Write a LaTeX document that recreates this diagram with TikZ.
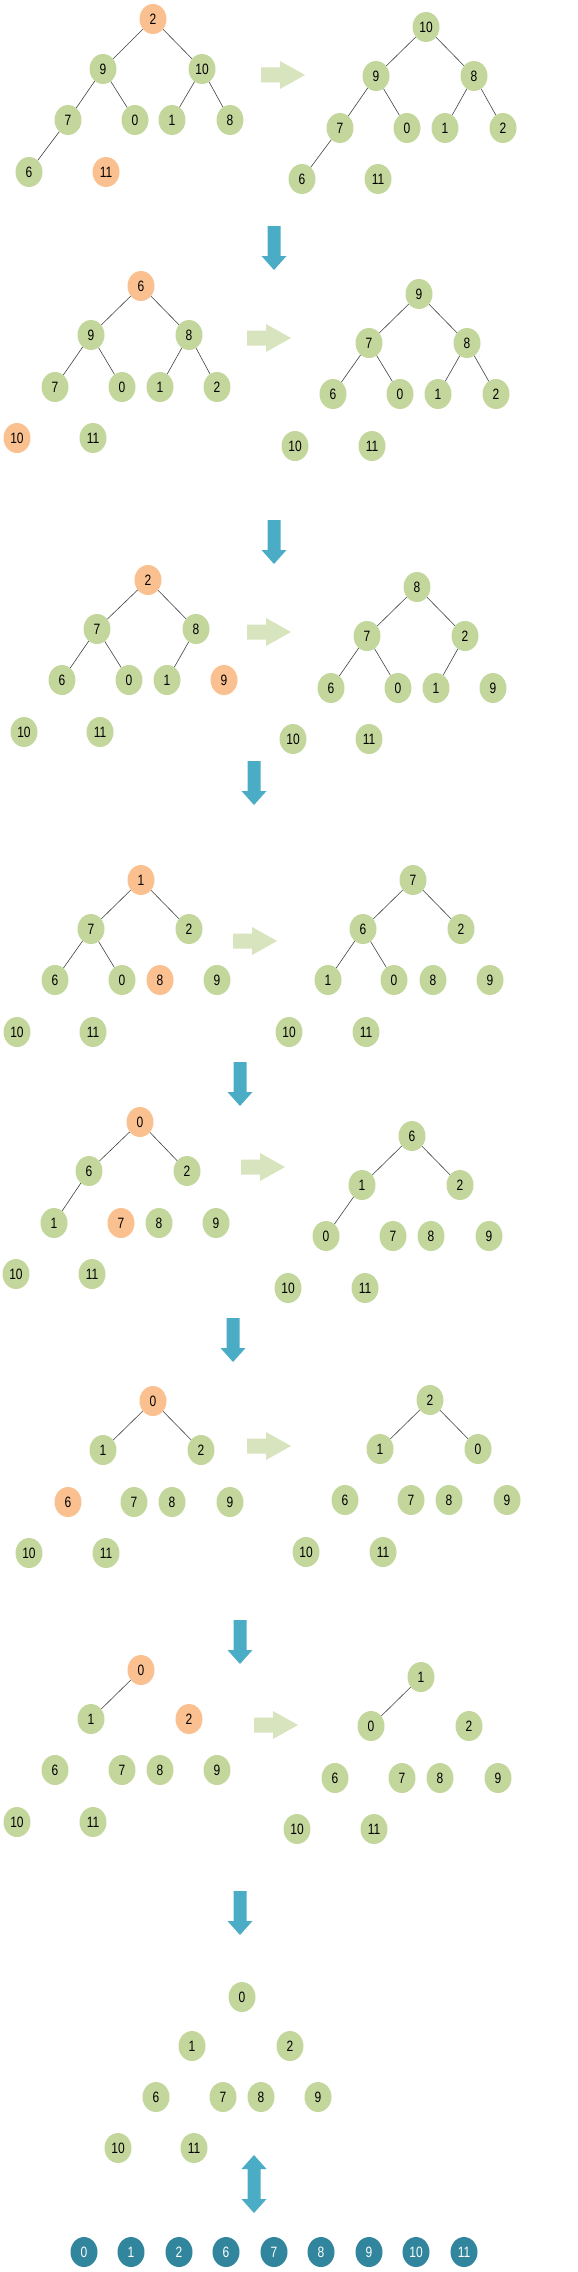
\documentclass[tikz,border=0pt]{standalone}
\usepackage{fontspec}
\newfontfamily\numfont[FakeStretch=0.8]{Liberation Sans}
\usetikzlibrary{shapes.geometric}
\definecolor{gfill}{HTML}{C3D69B}
\definecolor{ofill}{HTML}{FAC090}
\definecolor{bfill}{HTML}{31859C}
\definecolor{arrg}{HTML}{D7E4BD}
\definecolor{arrb}{HTML}{4BACC6}
\definecolor{edgec}{HTML}{404040}
\tikzset{
  nd/.style={ellipse, minimum width=27pt, minimum height=30pt, inner sep=0pt,
    font=\numfont\fontsize{15}{15}\selectfont},
  g/.style={nd, fill=gfill, text=black},
  o/.style={nd, fill=ofill, text=black},
  b/.style={nd, fill=bfill, text=white},
  e/.style={draw=edgec, line width=0.6pt},
  rarr/.pic={\fill[arrg] (0,-7.5) -- (19,-7.5) -- (19,-14) -- (44,0) -- (19,14) -- (19,7.5) -- (0,7.5) -- cycle;},
  darr/.pic={\fill[arrb] (-6.5,0) -- (6.5,0) -- (6.5,30) -- (12.5,30) -- (0,44) -- (-12.5,30) -- (-6.5,30) -- cycle;},
  dbarr/.pic={\fill[arrb] (0,0) -- (12.5,14) -- (6.5,14) -- (6.5,44) -- (12.5,44) -- (0,58) -- (-12.5,44) -- (-6.5,44) -- (-6.5,14) -- (-12.5,14) -- cycle;}
}
\begin{document}
\begin{tikzpicture}[x=1pt,y=-1pt]
\path[use as bounding box] (0,0) rectangle (578,2272);

% ---------- Panel 1 ----------
\node[o] (a2) at (153,19) {2};
\node[g] (a9) at (103,69) {9};
\node[g] (a10) at (202,69) {10};
\node[g] (a7) at (68,120) {7};
\node[g] (a0) at (135,120) {0};
\node[g] (a1) at (172,120) {1};
\node[g] (a8) at (230,120) {8};
\node[g] (a6) at (29,172) {6};
\node[o] (a11) at (106,172) {11};
\draw[e] (a2)--(a9) (a2)--(a10) (a9)--(a7) (a9)--(a0) (a10)--(a1) (a10)--(a8) (a7)--(a6);
\pic at (261,75) {rarr};
\node[g] (A10) at (426,27) {10};
\node[g] (A9) at (376,76) {9};
\node[g] (A8) at (474,76) {8};
\node[g] (A7) at (340,128) {7};
\node[g] (A0) at (407,128) {0};
\node[g] (A1) at (445,128) {1};
\node[g] (A2) at (503,128) {2};
\node[g] (A6) at (302,179) {6};
\node[g] (A11) at (378,179) {11};
\draw[e] (A10)--(A9) (A10)--(A8) (A9)--(A7) (A9)--(A0) (A8)--(A1) (A8)--(A2) (A7)--(A6);

% ---------- Panel 2 ----------
\pic at (274,226) {darr};
\node[o] (b6) at (141,286) {6};
\node[g] (b9) at (91,335) {9};
\node[g] (b8) at (189,335) {8};
\node[g] (b7) at (55,387) {7};
\node[g] (b0) at (122,387) {0};
\node[g] (b1) at (160,387) {1};
\node[g] (b2) at (217,387) {2};
\node[o] (b10) at (17,438) {10};
\node[g] (b11) at (93,438) {11};
\draw[e] (b6)--(b9) (b6)--(b8) (b9)--(b7) (b9)--(b0) (b8)--(b1) (b8)--(b2);
\pic at (247,338) {rarr};
\node[g] (B9) at (419,294) {9};
\node[g] (B7) at (369,343) {7};
\node[g] (B8) at (467,343) {8};
\node[g] (B6) at (333,394) {6};
\node[g] (B0) at (400,394) {0};
\node[g] (B1) at (438,394) {1};
\node[g] (B2) at (496,394) {2};
\node[g] (B10) at (295,446) {10};
\node[g] (B11) at (372,446) {11};
\draw[e] (B9)--(B7) (B9)--(B8) (B7)--(B6) (B7)--(B0) (B8)--(B1) (B8)--(B2);

% ---------- Panel 3 ----------
\pic at (274,520) {darr};
\node[o] (c2) at (148,580) {2};
\node[g] (c7) at (97,629) {7};
\node[g] (c8) at (196,629) {8};
\node[g] (c6) at (62,680) {6};
\node[g] (c0) at (129,680) {0};
\node[g] (c1) at (167,680) {1};
\node[o] (c9) at (224,680) {9};
\node[g] (c10) at (24,732) {10};
\node[g] (c11) at (100,732) {11};
\draw[e] (c2)--(c7) (c2)--(c8) (c7)--(c6) (c7)--(c0) (c8)--(c1);
\pic at (247,632) {rarr};
\node[g] (C8) at (417,587) {8};
\node[g] (C7) at (367,636) {7};
\node[g] (C2) at (465,636) {2};
\node[g] (C6) at (331,688) {6};
\node[g] (C0) at (398,688) {0};
\node[g] (C1) at (436,688) {1};
\node[g] (C9) at (493,688) {9};
\node[g] (C10) at (293,739) {10};
\node[g] (C11) at (369,739) {11};
\draw[e] (C8)--(C7) (C8)--(C2) (C7)--(C6) (C7)--(C0) (C2)--(C1);

% ---------- Panel 4 ----------
\pic at (254,761) {darr};
\node[o] (d1) at (141,880) {1};
\node[g] (d7) at (91,929) {7};
\node[g] (d2) at (189,929) {2};
\node[g] (d6) at (55,980) {6};
\node[g] (d0) at (122,980) {0};
\node[o] (d8) at (160,980) {8};
\node[g] (d9) at (217,980) {9};
\node[g] (d10) at (17,1032) {10};
\node[g] (d11) at (93,1032) {11};
\draw[e] (d1)--(d7) (d1)--(d2) (d7)--(d6) (d7)--(d0);
\pic at (233,941) {rarr};
\node[g] (D7) at (413,880) {7};
\node[g] (D6) at (363,929) {6};
\node[g] (D2) at (461,929) {2};
\node[g] (D1) at (328,980) {1};
\node[g] (D0) at (394,980) {0};
\node[g] (D8) at (433,980) {8};
\node[g] (D9) at (490,980) {9};
\node[g] (D10) at (289,1032) {10};
\node[g] (D11) at (366,1032) {11};
\draw[e] (D7)--(D6) (D7)--(D2) (D6)--(D1) (D6)--(D0);

% ---------- Panel 5 ----------
\pic at (240,1062) {darr};
\node[o] (e0) at (140,1122) {0};
\node[g] (e6) at (89,1171) {6};
\node[g] (e2) at (187,1171) {2};
\node[g] (e1) at (54,1223) {1};
\node[o] (e7) at (121,1223) {7};
\node[g] (e8) at (159,1223) {8};
\node[g] (e9) at (216,1223) {9};
\node[g] (e10) at (16,1274) {10};
\node[g] (e11) at (92,1274) {11};
\draw[e] (e0)--(e6) (e0)--(e2) (e6)--(e1);
\pic at (241,1167) {rarr};
\node[g] (E6) at (412,1136) {6};
\node[g] (E1) at (362,1185) {1};
\node[g] (E2) at (460,1185) {2};
\node[g] (E0) at (326,1236) {0};
\node[g] (E7) at (393,1236) {7};
\node[g] (E8) at (431,1236) {8};
\node[g] (E9) at (489,1236) {9};
\node[g] (E10) at (288,1288) {10};
\node[g] (E11) at (365,1288) {11};
\draw[e] (E6)--(E1) (E6)--(E2) (E1)--(E0);

% ---------- Panel 6 ----------
\pic at (233,1318) {darr};
\node[o] (f0) at (153,1401) {0};
\node[g] (f1) at (103,1450) {1};
\node[g] (f2) at (201,1450) {2};
\node[o] (f6) at (68,1502) {6};
\node[g] (f7) at (134,1502) {7};
\node[g] (f8) at (172,1502) {8};
\node[g] (f9) at (230,1502) {9};
\node[g] (f10) at (29,1553) {10};
\node[g] (f11) at (106,1553) {11};
\draw[e] (f0)--(f1) (f0)--(f2);
\pic at (247,1446) {rarr};
\node[g] (F2) at (430,1400) {2};
\node[g] (F1) at (380,1449) {1};
\node[g] (F0) at (478,1449) {0};
\node[g] (F6) at (345,1500) {6};
\node[g] (F7) at (411,1500) {7};
\node[g] (F8) at (449,1500) {8};
\node[g] (F9) at (507,1500) {9};
\node[g] (F10) at (306,1552) {10};
\node[g] (F11) at (383,1552) {11};
\draw[e] (F2)--(F1) (F2)--(F0);

% ---------- Panel 7 ----------
\pic at (240,1620) {darr};
\node[o] (h0) at (141,1670) {0};
\node[g] (h1) at (91,1719) {1};
\node[o] (h2) at (189,1719) {2};
\node[g] (h6) at (55,1770) {6};
\node[g] (h7) at (122,1770) {7};
\node[g] (h8) at (160,1770) {8};
\node[g] (h9) at (217,1770) {9};
\node[g] (h10) at (17,1822) {10};
\node[g] (h11) at (93,1822) {11};
\draw[e] (h0)--(h1);
\pic at (254,1725) {rarr};
\node[g] (H1) at (421,1677) {1};
\node[g] (H0) at (371,1726) {0};
\node[g] (H2) at (469,1726) {2};
\node[g] (H6) at (335,1778) {6};
\node[g] (H7) at (402,1778) {7};
\node[g] (H8) at (440,1778) {8};
\node[g] (H9) at (498,1778) {9};
\node[g] (H10) at (297,1829) {10};
\node[g] (H11) at (374,1829) {11};
\draw[e] (H1)--(H0);

% ---------- Panel 8 ----------
\pic at (240,1891) {darr};
\node[g] (k0) at (242,1997) {0};
\node[g] (k1) at (192,2046) {1};
\node[g] (k2) at (290,2046) {2};
\node[g] (k6) at (156,2097) {6};
\node[g] (k7) at (223,2097) {7};
\node[g] (k8) at (261,2097) {8};
\node[g] (k9) at (318,2097) {9};
\node[g] (k10) at (118,2148) {10};
\node[g] (k11) at (194,2148) {11};

\pic at (254,2155) {dbarr};

% ---------- Sorted array ----------
\node[b] (s0) at (84,2252) {0};
\node[b] (s1) at (131,2252) {1};
\node[b] (s2) at (179,2252) {2};
\node[b] (s6) at (226,2252) {6};
\node[b] (s7) at (274,2252) {7};
\node[b] (s8) at (321,2252) {8};
\node[b] (s9) at (369,2252) {9};
\node[b] (s10) at (416,2252) {10};
\node[b] (s11) at (464,2252) {11};
\end{tikzpicture}
\end{document}
